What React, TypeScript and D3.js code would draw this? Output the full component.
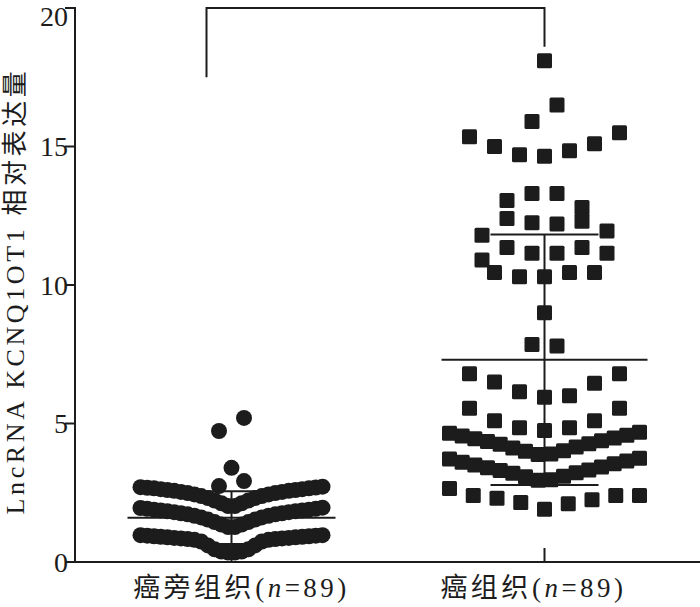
import React from 'react';
import * as d3 from 'd3';

// --- data ---
const categories = ['癌旁组织', '癌组织'];
const sampleSizes = [89, 89];
const yTicks = [0, 5, 10, 15, 20];
const means = [1.6, 7.3];
const sds = [0.95, 4.52];
const bracketTop = 20;
const bracketEnds = [17.5, 18.6];

// adjacent tissue, dot rows listed left to right
const adjacentRows: number[][] = [
  [4.73, 5.2],
  [3.4],
  [2.74, 2.92],
  [2.7, 2.68, 2.66, 2.63, 2.6, 2.57, 2.53, 2.49, 2.44, 2.38, 2.31, 2.22, 2.12, 2.02,
   2.02, 2.12, 2.22, 2.31, 2.38, 2.44, 2.49, 2.53, 2.57, 2.6, 2.63, 2.66, 2.69, 2.72],
  [1.95, 1.92, 1.89, 1.86, 1.83, 1.8, 1.76, 1.72, 1.67, 1.61, 1.53, 1.44, 1.35, 1.26,
   1.26, 1.35, 1.44, 1.53, 1.61, 1.67, 1.72, 1.76, 1.8, 1.83, 1.86, 1.89, 1.92, 1.96],
  [0.97, 0.95, 0.93, 0.91, 0.89, 0.87, 0.85, 0.83, 0.8, 0.74, 0.6, 0.46, 0.38, 0.34,
   0.34, 0.38, 0.46, 0.6, 0.74, 0.8, 0.83, 0.85, 0.87, 0.89, 0.91, 0.93, 0.95, 0.97],
];

// tumour tissue, square rows listed left to right
const tumorRows: number[][] = [
  [18.1],
  [15.9, 16.5],
  [15.35, 15.0, 14.7, 14.65, 14.85, 15.1, 15.5],
  [13.05, 13.3, 13.3, 12.8],
  [11.8, 12.4, 12.25, 12.2, 12.3, 11.95],
  [10.9, 11.35, 11.15, 11.15, 11.35, 11.15],
  [10.45, 10.3, 10.3, 10.45, 10.45],
  [9.0],
  [7.85, 7.8],
  [6.8, 6.5, 6.15, 5.95, 6.0, 6.45, 6.8],
  [5.55, 5.1, 4.85, 4.75, 4.85, 5.1, 5.55],
  [4.65, 4.55, 4.45, 4.35, 4.25, 4.12, 4.0, 3.88, 3.9, 4.02, 4.15, 4.27, 4.38, 4.48, 4.58, 4.68],
  [3.72, 3.6, 3.5, 3.4, 3.3, 3.2, 3.08, 2.95, 2.97, 3.1, 3.22, 3.32, 3.43, 3.55, 3.65, 3.75],
  [2.65, 2.4, 2.3, 2.15, 1.9, 2.1, 2.25, 2.4, 2.4],
];

const W = 700;
const H = 607;
const FONT = "'Liberation Serif', 'Times New Roman', 'Noto Sans CJK SC', serif";
const INK = '#1c1c1c';

// spread the values of one row sideways around the group centre
function layoutRows(rows: number[][], wide: number, spread: number) {
  const pts: { v: number; dx: number }[] = [];
  rows.forEach(row => {
    const n = row.length;
    const step = n > 1 ? Math.min(wide, spread / (n - 1)) : 0;
    row.forEach((v, i) => pts.push({ v, dx: (i - (n - 1) / 2) * step }));
  });
  return pts;
}

export default function App() {
  const x = d3.scalePoint<string>().domain(categories).range([75, 701]).padding(0.5);
  const y = d3.scaleLinear().domain([0, 20]).range([562, 8]);

  const cx1 = x(categories[0])!;
  const cx2 = x(categories[1])!;

  const dots = layoutRows(adjacentRows, 25, 182);
  const squares = layoutRows(tumorRows, 25, 190);

  const meanHalf = [104, 103];
  const capHalf = [38, 54];
  const labelShift = [10, -11];
  const centers = [cx1, cx2];

  return (
    <div style={{ position: 'fixed', left: 0, top: 0 }}>
      <svg width={W} height={H} style={{ display: 'block', background: '#fff' }}>
        {/* points */}
        <g fill={INK}>
          {dots.map((p, i) => (
            <circle key={'c' + i} cx={cx1 + p.dx} cy={y(p.v)} r={8} />
          ))}
          {squares.map((p, i) => (
            <rect key={'s' + i} x={cx2 + p.dx - 7.5} y={y(p.v) - 7.5} width={15} height={15} rx={1.5} />
          ))}
        </g>

        {/* mean and SD */}
        <g stroke={INK} strokeWidth={2} fill="none">
          {centers.map((c, i) => (
            <g key={'m' + i}>
              <line x1={c - meanHalf[i]} x2={c + meanHalf[i]} y1={y(means[i])} y2={y(means[i])} />
              <line x1={c} x2={c} y1={y(means[i] + sds[i])} y2={y(means[i] - sds[i])} />
              <line x1={c - capHalf[i]} x2={c + capHalf[i]} y1={y(means[i] + sds[i])} y2={y(means[i] + sds[i])} />
              <line x1={c - capHalf[i]} x2={c + capHalf[i]} y1={y(means[i] - sds[i])} y2={y(means[i] - sds[i])} />
            </g>
          ))}
        </g>

        {/* significance bracket */}
        <path
          d={`M${cx1 - 25},${y(bracketEnds[0])}V${y(bracketTop)}H${cx2}V${y(bracketEnds[1])}`}
          stroke={INK}
          strokeWidth={2}
          fill="none"
        />

        {/* axes */}
        <g stroke={INK} strokeWidth={2}>
          <line x1={75} x2={75} y1={y(20) - 1} y2={y(0) + 1} />
          {yTicks.map(t => (
            <line key={'yt' + t} x1={65} x2={75} y1={y(t)} y2={y(t)} />
          ))}
          <line x1={74} x2={700} y1={y(0)} y2={y(0)} />
          {centers.map((c, i) => (
            <line key={'xt' + i} x1={c} x2={c} y1={y(0)} y2={y(0) - 14} />
          ))}
        </g>
        <g fontFamily={FONT} fontSize={28} fill={INK} textAnchor="end">
          {yTicks.map(t => (
            <text key={'yl' + t} x={68} y={Math.max(y(t), 16)} dy="0.34em">{t}</text>
          ))}
        </g>

        {/* x labels */}
        <g fontFamily={FONT} fontSize={27} fill={INK} textAnchor="middle" letterSpacing={3.5}>
          {categories.map((c, i) => (
            <text key={'xl' + i} x={centers[i] + labelShift[i]} y={597}>
              {c}(<tspan fontStyle="italic">n</tspan>={sampleSizes[i]})
            </text>
          ))}
        </g>

        {/* y title */}
        <text
          transform="translate(24,291) rotate(-90)"
          fontFamily={FONT}
          fontSize={26}
          fill={INK}
          textAnchor="middle"
          letterSpacing={3.6}
        >
          LncRNA KCNQ1OT1 相对表达量
        </text>
      </svg>
    </div>
  );
}
